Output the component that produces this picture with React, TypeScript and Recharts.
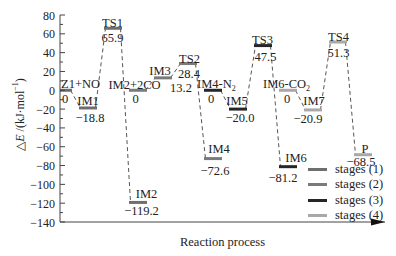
import React from 'react';
import { ComposedChart, XAxis, YAxis, ReferenceLine, ReferenceDot } from 'recharts';

const stageLabels = ['stages (1)', 'stages (2)', 'stages (3)', 'stages (4)'];
const stageNames = [
  ['Z1+NO', 'IM1', 'TS1', 'IM2'],
  ['IM2+2CO', 'IM3', 'TS2', 'IM4'],
  ['IM4-N|2', 'IM5', 'TS3', 'IM6'],
  ['IM6-CO|2', 'IM7', 'TS4', 'P'],
];
const stageEnergies = [
  [0, -18.8, 65.9, -119.2],
  [0, 13.2, 28.4, -72.6],
  [0, -20.0, 47.5, -81.2],
  [0, -20.9, 51.3, -68.5],
];
const yTicks = [-140, -130, -120, -110, -100, -90, -80, -70, -60, -50, -40, -30, -20, -10, 0, 10, 20, 30, 40, 50, 60, 70, 80];
const xTitle = 'Reaction process';

// styling / layout
const FONT = '"Liberation Serif", "Times New Roman", serif';
const stageColors = ['#6e6e6e', '#7a7a7a', '#262626', '#a8a8a8'];
const X_MIN = -0.12;
const X_MAX = 12.88;
const HALF = 0.36;
const CONN = 0.3;
// [nameDx, nameDy, anchor, valueDx, valueDy] in px, relative to bar centre
const labelLayout: [number, number, string, number, number][][] = [
  [[-2, -2, 'start', 2, 13], [0, -2.5, 'middle', 2, 14], [-0.5, -1.5, 'middle', -0.5, 14], [8.5, -4, 'middle', 3.5, 13]],
  [[-3.5, -1, 'middle', -2.5, 12.5], [-3, -2.5, 'middle', 18, 14.5], [1.5, -1, 'middle', 1, 14], [6, -5.5, 'middle', 2, 16.5]],
  [[-16, -2, 'start', -2, 13], [-1, -4, 'middle', 2, 13], [-0.5, -2, 'middle', 2.5, 15], [8, -4.5, 'middle', -5, 15.5]],
  [[-25, -2, 'start', -1, 13], [1, -4.5, 'middle', -5, 13], [0.5, -1.5, 'middle', 0.5, 15], [2, -1.5, 'middle', -2, 11.5]],
];

const fmt = (v: number) => (v === 0 ? '0' : (v < 0 ? '\u2212' : '') + Math.abs(v).toFixed(1));
const fmtTick = (v: number) => (v < 0 ? '\u2212' : '') + Math.abs(v);

const levels = stageNames.flatMap((names, s) =>
  names.map((name, j) => ({ stage: s, step: j, slot: 3 * s + j, name, energy: stageEnergies[s][j] }))
);

const YTick = (props: any) => {
  const { x, y, payload } = props;
  const v = payload.value as number;
  const major = v % 20 === 0;
  return (
    <g>
      <line x1={x} x2={x + (major ? 5 : 3)} y1={y} y2={y} stroke="#444" strokeWidth={1} />
      {major && (
        <text x={x - 5} y={y} dy={4.5} textAnchor="end" fontFamily={FONT} fontSize={12} fill="#222">
          {fmtTick(v)}
        </text>
      )}
    </g>
  );
};

const YTitle = (props: any) => {
  const vb = props.viewBox || { x: 0, y: 15, width: 60, height: 207 };
  const cx = vb.x + 20;
  const cy = vb.y + vb.height / 2 - 4;
  return (
    <text
      x={cx}
      y={cy}
      transform={`rotate(-90, ${cx}, ${cy})`}
      textAnchor="middle"
      dominantBaseline="central"
      fontFamily={FONT}
      fontSize={12}
      fill="#222"
    >
      <tspan>{'\u25B3'}</tspan>
      <tspan fontStyle="italic">E</tspan>
      <tspan>{' /(kJ\u00B7mol'}</tspan>
      <tspan fontSize={8} dy={-5}>{'\u22121'}</tspan>
      <tspan dy={5}>)</tspan>
    </text>
  );
};

const renderName = (name: string) => {
  const parts = name.split('|');
  if (parts.length === 1) return name;
  return [
    <tspan key="a">{parts[0]}</tspan>,
    <tspan key="b" fontSize={8} dy={3}>{parts[1]}</tspan>,
  ];
};

const LegendBox = () => (
  <div style={{ position: 'absolute', left: 308, top: 162, fontFamily: FONT, fontSize: 12.5, color: '#222' }}>
    {stageLabels.map((lab, i) => (
      <div key={lab} style={{ display: 'flex', alignItems: 'center', height: 15.3 }}>
        <div style={{ width: 19, height: 3, background: stageColors[i], marginRight: 8 }} />
        <span style={{ whiteSpace: 'nowrap' }}>{lab}</span>
      </div>
    ))}
  </div>
);

export default function App() {
  const connectors: { x1: number; y1: number; x2: number; y2: number; key: string }[] = [];
  stageEnergies.forEach((arr, s) => {
    for (let j = 0; j < arr.length - 1; j++) {
      connectors.push({
        key: `c${s}-${j}`,
        x1: 3 * s + j + CONN,
        y1: arr[j],
        x2: 3 * s + j + 1 - CONN,
        y2: arr[j + 1],
      });
    }
  });

  return (
    <div style={{ position: 'absolute', left: 0, top: 0, width: 396, height: 256, background: '#fff' }}>
      <ComposedChart width={396} height={256} margin={{ top: 15, right: 11, bottom: 0, left: 0 }} data={levels}>
        <XAxis
          type="number"
          dataKey="slot"
          domain={[X_MIN, X_MAX]}
          allowDataOverflow
          height={34}
          tick={false}
          tickLine={false}
          axisLine={{ stroke: '#444', strokeWidth: 1 }}
          label={{ value: xTitle, position: 'insideBottom', offset: 10, fontFamily: FONT, fontSize: 12.5, fill: '#222' }}
        />
        <YAxis
          type="number"
          domain={[-140, 80]}
          ticks={yTicks}
          interval={0}
          width={60}
          tickSize={0}
          tickMargin={0}
          tick={<YTick />}
          tickLine={false}
          axisLine={{ stroke: '#444', strokeWidth: 1 }}
          allowDataOverflow
          label={<YTitle />}
        />
        {connectors.map((c) => (
          <ReferenceLine
            key={c.key}
            segment={[{ x: c.x1, y: c.y1 }, { x: c.x2, y: c.y2 }]}
            stroke="#555"
            strokeWidth={1}
            strokeDasharray="4 3"
            ifOverflow="visible"
          />
        ))}
        {levels.map((l) => (
          <ReferenceLine
            key={`b${l.stage}-${l.step}`}
            segment={[
              { x: Math.max(l.slot - HALF, X_MIN), y: l.energy },
              { x: l.slot + HALF, y: l.energy },
            ]}
            stroke={stageColors[l.stage]}
            strokeWidth={3}
            ifOverflow="visible"
          />
        ))}
        {levels.map((l) => {
          const [ndx, ndy, anchor, vdx, vdy] = labelLayout[l.stage][l.step];
          return (
            <ReferenceDot
              key={`t${l.stage}-${l.step}`}
              x={l.slot}
              y={l.energy}
              r={0}
              ifOverflow="visible"
              shape={(p: any) => (
                <g>
                  <text
                    x={p.cx + ndx}
                    y={p.cy + ndy}
                    textAnchor={anchor as any}
                    fontFamily={FONT}
                    fontSize={12.5}
                    fill="#222"
                  >
                    {renderName(l.name)}
                  </text>
                  <text
                    x={p.cx + vdx}
                    y={p.cy + vdy}
                    textAnchor="middle"
                    fontFamily={FONT}
                    fontSize={12.5}
                    fill="#222"
                  >
                    {fmt(l.energy)}
                  </text>
                </g>
              )}
            />
          );
        })}
        <ReferenceDot
          x={X_MAX}
          y={-140}
          r={0}
          ifOverflow="visible"
          shape={(p: any) => (
            <path d={`M${p.cx - 14},${p.cy - 3.5} L${p.cx},${p.cy} L${p.cx - 14},${p.cy + 3.5} Z`} fill="#111" />
          )}
        />
      </ComposedChart>
      <LegendBox />
    </div>
  );
}
